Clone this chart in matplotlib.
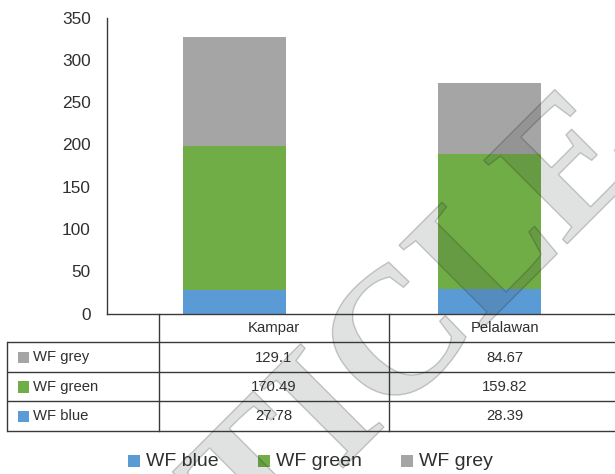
import matplotlib
matplotlib.use("Agg")
import matplotlib.pyplot as plt
from matplotlib.patches import Rectangle, PathPatch
from matplotlib.textpath import TextPath
from matplotlib.font_manager import FontProperties
from matplotlib.transforms import Affine2D

# Data
regions = ["Kampar", "Pelalawan"]
series = ["WF blue", "WF green", "WF grey"]
wf_blue = [27.78, 28.39]
wf_green = [170.49, 159.82]
wf_grey = [129.1, 84.67]
value_labels = {"WF blue": ["27.78", "28.39"],
                "WF green": ["170.49", "159.82"],
                "WF grey": ["129.1", "84.67"]}
colors = {"WF blue": "#5B9BD5", "WF green": "#70AD47", "WF grey": "#A5A5A5"}
y_ticks = [0, 50, 100, 150, 200, 250, 300, 350]

W, H = 615, 474
DPI = 100
text_color = "#303030"
line_color = "#3a3a3a"
font = "Liberation Sans"

fig = plt.figure(figsize=(W / DPI, H / DPI), dpi=DPI)
fig.patch.set_facecolor("white")


def fx(px):
    return px / W


def fy(py):
    return 1 - py / H


# Chart area
y0_px, ytop_px = 313.5, 17.6
x_left_px, x_right_px = 107.3, 617.3
ax = fig.add_axes([fx(x_left_px), fy(y0_px), fx(x_right_px - x_left_px),
                   (y0_px - ytop_px) / H])
x = range(len(regions))
stack = [wf_blue, wf_green, wf_grey]
bottom = [0.0] * len(regions)
for name, vals in zip(series, stack):
    ax.bar(x, vals, width=0.404, bottom=bottom, color=colors[name],
           linewidth=0, zorder=2)
    bottom = [b + v for b, v in zip(bottom, vals)]

ax.set_xlim(-0.5, len(regions) - 0.5)
ax.set_ylim(0, 350)
ax.set_yticks(y_ticks)
ax.set_yticklabels([str(t) for t in y_ticks], fontsize=12.4, color=text_color,
                   family=font)
ax.tick_params(axis="y", length=0, pad=12)
ax.set_xticks([])
for s in ["top", "right"]:
    ax.spines[s].set_visible(False)
for s in ["left", "bottom"]:
    ax.spines[s].set_color(line_color)
    ax.spines[s].set_linewidth(1.0)

# Overlay in pixel coordinates for the data table and legend
ov = fig.add_axes([0, 0, 1, 1], facecolor="none")
ov.set_xlim(0, W)
ov.set_ylim(H, 0)
ov.axis("off")

row_lines = [342.3, 371.7, 401.0, 430.7]
col_lines = [158.7, 389.3]
col_right = 620.0
tbl_left = 7.3
lw = 1.0
for yy in row_lines:
    ov.plot([tbl_left, W], [yy, yy], color=line_color, lw=lw,
            solid_capstyle="butt")
for xx in col_lines:
    ov.plot([xx, xx], [y0_px, row_lines[-1]], color=line_color, lw=lw)
ov.plot([tbl_left, tbl_left], [row_lines[0], row_lines[-1]],
        color=line_color, lw=lw)

col_edges = col_lines + [col_right]
col_centers = [(col_edges[i] + col_edges[i + 1]) / 2 for i in range(len(regions))]
for cx, name in zip(col_centers, regions):
    ov.text(cx, (y0_px + row_lines[0]) / 2 + 0.5, name, ha="center",
            va="center", fontsize=10.7, color=text_color, family=font)

table_order = ["WF grey", "WF green", "WF blue"]
for i, name in enumerate(table_order):
    yc = (row_lines[i] + row_lines[i + 1]) / 2 + 0.5
    ov.add_patch(Rectangle((18.0, yc - 5.6), 11.3, 11.3,
                           color=colors[name], lw=0))
    ov.text(33.3, yc, name, ha="left", va="center", fontsize=10.7,
            color=text_color, family=font)
    for cx, lab in zip(col_centers, value_labels[name]):
        ov.text(cx, yc, lab, ha="center", va="center", fontsize=10.7,
                color=text_color, family=font)

# Legend
leg_y = 461.0
leg_sq = [128.0, 257.7, 401.0]
for lx, name in zip(leg_sq, series):
    ov.add_patch(Rectangle((lx, leg_y - 6), 12, 12, color=colors[name], lw=0))
    ov.text(lx + 18, leg_y, name, ha="left", va="center", fontsize=14,
            color=text_color, family=font)

# Diagonal watermark drawn as an outlined, translucent glyph path
wm_fp = FontProperties(family="Liberation Serif", weight="bold")
wm_path = TextPath((0, 0), "ARTICLE", size=180, prop=wm_fp)
ext = wm_path.get_extents()
cx0, cy0 = (ext.x0 + ext.x1) / 2, (ext.y0 + ext.y1) / 2
wm_tr = (Affine2D().translate(-cx0, -cy0).scale(1, -1).rotate_deg(-45)
         .translate(318, 410))
wm_patch = PathPatch(wm_tr.transform_path(wm_path),
                     facecolor=(0.2, 0.22, 0.22, 0.15),
                     edgecolor=(0.1, 0.1, 0.1, 0.22), lw=1.0, zorder=10)
ov.add_patch(wm_patch)

fig.savefig("out.png", dpi=DPI, facecolor="white")
